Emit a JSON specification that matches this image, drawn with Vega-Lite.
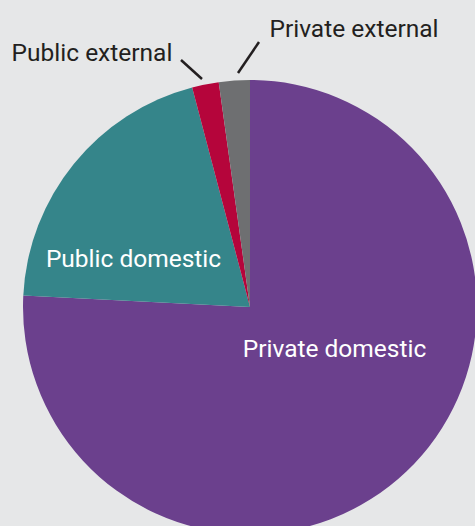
{
  "$schema": "https://vega.github.io/schema/vega-lite/v6.json",
  "width": 500,
  "height": 614,
  "autosize": {"type": "none"},
  "padding": 0,
  "background": "#e6e7e8",
  "config": {"view": {"stroke": null}, "font": "Roboto"},
  "datasets": {
    "slices": [
      {"category": "Private domestic", "share": 75.8, "rank": 1},
      {"category": "Public domestic", "share": 20.1, "rank": 2},
      {"category": "Public external", "share": 1.9, "rank": 3},
      {"category": "Private external", "share": 2.2, "rank": 4}
    ],
    "labelsIn": [
      {"label": "Public domestic", "lx": -116.5, "ly": 40},
      {"label": "Private domestic", "lx": 84.5, "ly": -50}
    ],
    "labelsOut": [
      {"label": "Public external", "lx": -158, "ly": 246},
      {"label": "Private external", "lx": 104, "ly": 270}
    ],
    "leaders": [
      {"label": "Public external", "x1": -69, "y1": 247, "x2": -48, "y2": 228},
      {"label": "Private external", "x1": 9, "y1": 265, "x2": -12, "y2": 234}
    ]
  },
  "layer": [
    {
      "data": {"name": "slices"},
      "mark": {"type": "arc", "outerRadius": 227},
      "encoding": {
        "theta": {"field": "share", "type": "quantitative", "stack": true},
        "order": {"field": "rank", "type": "quantitative"},
        "color": {
          "field": "category",
          "type": "nominal",
          "scale": {
            "domain": ["Private domestic", "Public domestic", "Public external", "Private external"],
            "range": ["#6b408d", "#35858a", "#b5053b", "#6e6f71"]
          },
          "legend": null
        }
      }
    },
    {
      "data": {"name": "leaders"},
      "mark": {"type": "rule", "strokeWidth": 2.5, "color": "#231f20"},
      "encoding": {
        "x": {"field": "x1", "type": "quantitative", "scale": {"domain": [-250, 250], "nice": false, "zero": false}, "axis": null},
        "y": {"field": "y1", "type": "quantitative", "scale": {"domain": [-307, 307], "nice": false, "zero": false}, "axis": null},
        "x2": {"field": "x2"},
        "y2": {"field": "y2"}
      }
    },
    {
      "data": {"name": "labelsOut"},
      "mark": {"type": "text", "fontSize": 24.5, "color": "#231f20", "align": "center", "baseline": "alphabetic"},
      "encoding": {
        "x": {"field": "lx", "type": "quantitative"},
        "y": {"field": "ly", "type": "quantitative"},
        "text": {"field": "label"}
      }
    },
    {
      "data": {"name": "labelsIn"},
      "mark": {"type": "text", "fontSize": 24.5, "color": "#ffffff", "align": "center", "baseline": "alphabetic"},
      "encoding": {
        "x": {"field": "lx", "type": "quantitative"},
        "y": {"field": "ly", "type": "quantitative"},
        "text": {"field": "label"}
      }
    }
  ]
}
